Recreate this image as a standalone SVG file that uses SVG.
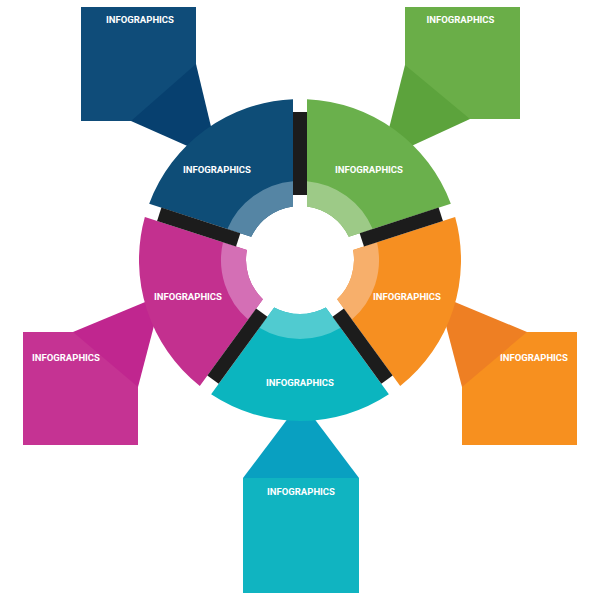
<svg xmlns="http://www.w3.org/2000/svg" width="600" height="600" viewBox="0 0 600 600">
  <defs>
    <style>
      .lbl { font-family: Roboto, "Liberation Sans", "DejaVu Sans", sans-serif; font-weight: 700; font-size: 9.5px; fill: #ffffff; text-anchor: middle; }
      .bar { fill: #1c1c1c; }
    </style>
    <path id="seg" d="M25.81,47.43 L88.88,134.24 A161,161 0 0 1 -88.88,134.24 L-25.81,47.43 A54,54 0 0 0 25.81,47.43 Z"/>
    <path id="band" d="M25.81,47.43 L40.59,67.78 A79,79 0 0 1 -40.59,67.78 L-25.81,47.43 A54,54 0 0 0 25.81,47.43 Z"/>
    <rect id="gapbar" x="-7" y="-148" width="14" height="83"/>
  </defs>
  <rect width="600" height="600" fill="#ffffff"/>

  <!-- callout boxes -->
  <g id="box-blue">
    <rect x="81" y="7" width="115" height="114" fill="#0f4c79"/>
    <text class="lbl" x="140" y="22.8">INFOGRAPHICS</text>
  </g>
  <g id="box-green">
    <rect x="405" y="7" width="115" height="112" fill="#6aae48"/>
    <text class="lbl" x="460.5" y="22.8">INFOGRAPHICS</text>
  </g>
  <g id="box-magenta">
    <rect x="23" y="332" width="115" height="113" fill="#c53393"/>
    <text class="lbl" x="66" y="361">INFOGRAPHICS</text>
  </g>
  <g id="box-orange">
    <rect x="462" y="332" width="115" height="113" fill="#f7901f"/>
    <text class="lbl" x="534" y="361">INFOGRAPHICS</text>
  </g>
  <g id="box-cyan">
    <rect x="243" y="478" width="116" height="115" fill="#10b4c1"/>
  </g>

  <!-- connectors (pointers) -->
  <g id="connectors">
    <polygon points="131,121 196,64 219,160" fill="#07406f"/>
    <polygon points="405,65 470,119 381,160" fill="#5ca33c"/>
    <polygon points="73,332 138,387 162,295" fill="#c0268f"/>
    <polygon points="527,332 462,387 438,295" fill="#ee7f23"/>
    <polygon points="243,478 359,478 301,401" fill="#09a0c1"/>
  </g>

  <g id="box-cyan-label">
    <text class="lbl" x="301" y="495">INFOGRAPHICS</text>
  </g>

  <!-- ring segments -->
  <g id="seg-blue">
    <g transform="translate(300,260) rotate(144)">
      <use href="#seg" fill="#0e4d77"/>
      <use href="#band" fill="#5585a4"/>
    </g>
    <text class="lbl" x="217" y="172.5">INFOGRAPHICS</text>
  </g>
  <g id="seg-green">
    <g transform="translate(300,260) rotate(-144)">
      <use href="#seg" fill="#6ab04c"/>
      <use href="#band" fill="#9dca87"/>
    </g>
    <text class="lbl" x="369" y="172.5">INFOGRAPHICS</text>
  </g>
  <g id="seg-orange">
    <g transform="translate(300,260) rotate(-72)">
      <use href="#seg" fill="#f68f21"/>
      <use href="#band" fill="#f7af6b"/>
    </g>
    <text class="lbl" x="407" y="300">INFOGRAPHICS</text>
  </g>
  <g id="seg-cyan">
    <g transform="translate(300,260)">
      <use href="#seg" fill="#0bb5bf"/>
      <use href="#band" fill="#50cbd0"/>
    </g>
    <text class="lbl" x="300" y="385.5">INFOGRAPHICS</text>
  </g>
  <g id="seg-magenta">
    <g transform="translate(300,260) rotate(72)">
      <use href="#seg" fill="#c3308f"/>
      <use href="#band" fill="#d46fb5"/>
    </g>
    <text class="lbl" x="188" y="300">INFOGRAPHICS</text>
  </g>

  <!-- dark separators -->
  <g id="separators" transform="translate(300,260)">
    <use href="#gapbar" class="bar"/>
    <use href="#gapbar" class="bar" transform="rotate(72)"/>
    <use href="#gapbar" class="bar" transform="rotate(144)"/>
    <use href="#gapbar" class="bar" transform="rotate(216)"/>
    <use href="#gapbar" class="bar" transform="rotate(288)"/>
  </g>
</svg>
